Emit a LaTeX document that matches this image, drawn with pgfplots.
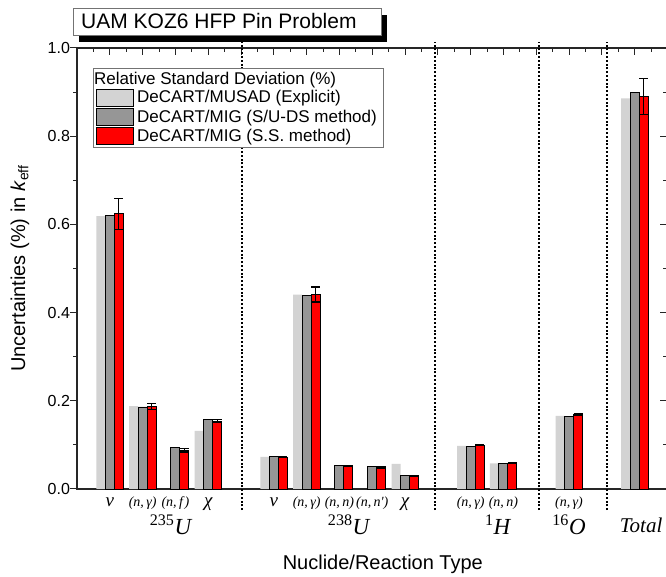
\documentclass[border=0pt]{standalone}
\usepackage{fontspec}
\setmainfont{Liberation Sans}
\newfontfamily\tms{Liberation Serif}
\usepackage{pgfplots}
\pgfplotsset{compat=1.18}
\definecolor{lgray}{HTML}{D3D3D3}
\definecolor{mgray}{HTML}{969696}
\definecolor{rbar}{HTML}{FF0000}
\newcommand{\fs}[1]{\fontsize{#1}{#1}\selectfont}
\newcommand{\gk}[1]{{\fs{19}#1}}

\begin{document}
\begin{tikzpicture}
\useasboundingbox (0,0) rectangle (666pt,577pt);
% title box with its shadow
\fill[black] (79pt,535pt) rectangle (387pt,562pt);
\draw[fill=white,draw=black!55,line width=0.8pt] (73.5pt,542pt) rectangle (381pt,569pt);
\node[anchor=west,inner sep=0pt,font=\fs{21}] at (81pt,555.5pt) {UAM KOZ6 HFP Pin Problem};

\begin{axis}[
  at={(77pt,88pt)}, anchor=south west,
  scale only axis, width=590.4pt, height=441pt,
  xmin=0, xmax=18, ymin=0, ymax=1,
  clip=false,
  ybar=0pt, bar width=9pt,
  axis line style={line width=1.3pt, black!85},
  tick style={line width=1pt, black!85},
  tick align=center,
  major tick length=7pt, minor tick length=4pt,
  major x tick style={yshift=-3.5pt}, minor x tick style={yshift=-2pt},
  major y tick style={xshift=-3.5pt}, minor y tick style={xshift=-2pt},
  xtick={0,...,18}, minor x tick num=1,
  xtick pos=right, xticklabel pos=left,
  xticklabels={{}, \gk{ν}, {(n,\,γ)}, {(n,\,f\/)}, \gk{χ}, {}, \gk{ν}, {(n,\,γ)}, {(n,\,n)}, {(n,\,n')}, \gk{χ}, {}, {(n,\,γ)}, {(n,\,n)}, {}, {(n,\,γ)}, {}, {}, {}},
  xticklabel style={font=\tms\itshape\fs{14}, text height=10pt, text depth=3pt},
  ytick={0,0.2,0.4,0.6,0.8,1}, minor y tick num=1,
  ytick pos=both, yticklabel pos=left,
  yticklabel style={font=\fs{16}, /pgf/number format/.cd, fixed, fixed zerofill, precision=1, assume math mode=true},
  xlabel={Nuclide/Reaction Type},
  xlabel style={at={(axis description cs:0.518,-0.170)}, anchor=center, font=\fs{20}},
  ylabel={Uncertainties (\%) in \textit{k}\textsubscript{eff}},
  ylabel style={at={(axis description cs:-0.0965,0.5)}, anchor=center, font=\fs{20}},
  legend style={at={(axis description cs:0.0271,0.9546)}, anchor=north west,
    draw=black!55, line width=0.6pt, font=\fs{17},
    nodes={inner ysep=1.5pt, inner xsep=3pt}, row sep=1.5pt, cells={anchor=west}},
  legend image code/.code={\draw[#1] (0pt,-8.5pt) rectangle (37pt,8.5pt);},
]
\addlegendimage{empty legend}
\addlegendentry{\hspace*{-43pt}Relative Standard Deviation (\%)}

\addplot[fill=lgray, draw=none] coordinates {
  (1,0.619) (2,0.188) (4,0.132) (6,0.073) (7,0.441)
  (10,0.057) (12,0.0975) (13,0.058) (15,0.166) (17,0.886)
};
\addlegendentry{DeCART/MUSAD (Explicit)}

\addplot[fill=mgray, draw=black, line width=0.9pt] coordinates {
  (1,0.620) (2,0.186) (3,0.094) (4,0.158) (6,0.073) (7,0.438) (8,0.053)
  (9,0.051) (10,0.030) (12,0.096) (13,0.0575) (15,0.165) (17,0.899)
};
\addlegendentry{DeCART/MIG (S/U-DS method)}

\addplot[fill=rbar, draw=black, line width=0.9pt,
  error bars/.cd, y dir=both, y explicit,
  error bar style={line width=1.2pt, black},
  error mark options={rotate=90, mark size=4.5pt, line width=1.2pt, black}]
  coordinates {
  (1,0.624) +- (0,0.035)
  (2,0.187) +- (0,0.007)
  (3,0.088) +- (0,0.004)
  (4,0.154) +- (0,0.004)
  (6,0.072) +- (0,0.001)
  (7,0.441) +- (0,0.017)
  (8,0.0514) +- (0,0.001)
  (9,0.048) +- (0,0.002)
  (10,0.0295) +- (0,0.001)
  (12,0.0998) +- (0,0.001)
  (13,0.058) +- (0,0.001)
  (15,0.169) +- (0,0.001)
  (17,0.890) +- (0,0.041)
};
\addlegendentry{DeCART/MIG (S.S. method)}

% group separators
\foreach \s in {5.03,10.9,14.09,16.15}{
  \edef\tmp{\noexpand\draw[black, line width=2pt, dash pattern=on 2pt off 1.8pt]
    (axis cs:\s,-0.048) -- (axis cs:\s,1.014);}\tmp
}

% nuclide labels
\node[font=\tms\fs{23}] at (axis cs:2.87,-0.0816) {\textsuperscript{235}\textit{U}};
\node[font=\tms\fs{23}] at (axis cs:8.3,-0.0816) {\textsuperscript{238}\textit{U}};
\node[font=\tms\fs{23}] at (axis cs:12.84,-0.0816) {\textsuperscript{1}\textit{H}};
\node[font=\tms\fs{23}] at (axis cs:15.0,-0.0816) {\textsuperscript{16}\textit{O}};
\node[font=\tms\fs{21}] at (axis cs:17.2,-0.0816) {\textit{Total}};
\end{axis}
\end{tikzpicture}
\end{document}
